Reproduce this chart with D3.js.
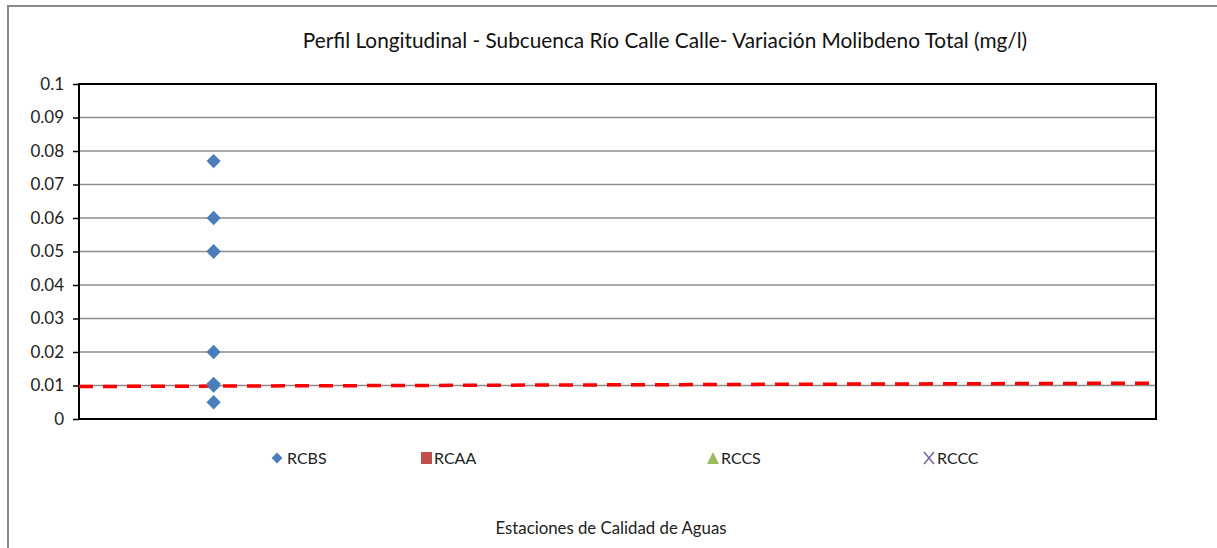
<!DOCTYPE html>
<html>
<head>
<meta charset="utf-8">
<script src="https://cdn.jsdelivr.net/npm/d3@7"></script>
<style>
  html, body { margin: 0; padding: 0; background: #fff; }
  svg { display: block; font-family: Lato, "Open Sans", sans-serif; }
</style>
</head>
<body>
<svg id="chart" width="1217" height="548"></svg>
<script>
// Sampling stations along the Calle Calle sub-basin
const stations = ["RCBS", "RCAA", "RCCS", "RCCC"];
// Total molybdenum measured at RCBS (mg/l)
const rcbsValues = [0.077, 0.06, 0.05, 0.05, 0.02, 0.0105, 0.01, 0.005];
// Reference limit line (mg/l), from left edge to right edge of the plot
const limitValues = [0.0097, 0.0107];
const yTicks = [0, 0.01, 0.02, 0.03, 0.04, 0.05, 0.06, 0.07, 0.08, 0.09, 0.1];

const svg = d3.select("#chart");
const W = 1217, H = 548;
const plot = { left: 79, top: 84, right: 1156, bottom: 419 };

// Outer chart frame
svg.append("path")
  .attr("d", `M8,${H + 5} V6 H${W + 5}`)
  .attr("fill", "none").attr("stroke", "#8a8a8a").attr("stroke-width", 2);

const x = d3.scaleBand().domain(stations).range([plot.left, plot.right]);
const y = d3.scaleLinear().domain([0, 0.1]).range([plot.bottom, plot.top]);

// Gridlines
svg.append("g").selectAll("line")
  .data(yTicks.filter(t => t > 0 && t < 0.1))
  .join("line")
  .attr("x1", plot.left).attr("x2", plot.right)
  .attr("y1", d => y(d)).attr("y2", d => y(d))
  .attr("stroke", "#8c8c8c").attr("stroke-width", 1.5);

// Plot frame
svg.append("rect")
  .attr("x", plot.left).attr("y", plot.top)
  .attr("width", plot.right - plot.left).attr("height", plot.bottom - plot.top)
  .attr("fill", "none").attr("stroke", "#000").attr("stroke-width", 2);

// Y axis
const yAxis = d3.axisLeft(y).tickValues(yTicks).tickSize(6).tickPadding(9)
  .tickFormat(d => d3.format("")(+d.toFixed(2)));
const gy = svg.append("g").attr("transform", `translate(${plot.left},0)`).call(yAxis);
gy.select(".domain").remove();
gy.selectAll(".tick line").attr("stroke", "#000").attr("stroke-width", 1.5);
gy.selectAll(".tick text").attr("font-size", 17).attr("fill", "#222")
  .attr("font-family", "Lato, sans-serif");

// Limit line (dashed red)
const xl = d3.scaleLinear().domain([0, limitValues.length - 1]).range([plot.left, plot.right]);
svg.append("path")
  .datum(limitValues)
  .attr("d", d3.line().x((d, i) => xl(i)).y(d => y(d)))
  .attr("fill", "none").attr("stroke", "#ff0000").attr("stroke-width", 3.5)
  .attr("stroke-dasharray", "14,10");

// RCBS points
const diamond = d3.symbol().type(d3.symbolDiamond2).size(130);
svg.append("g").selectAll("path")
  .data(rcbsValues)
  .join("path")
  .attr("d", diamond)
  .attr("transform", d => `translate(${x("RCBS") + x.bandwidth() / 2},${y(d)})`)
  .attr("fill", "#4a7ebb");

// Title
svg.append("text")
  .attr("x", 665).attr("y", 48).attr("text-anchor", "middle")
  .attr("font-size", 20.8).attr("fill", "#111")
  .text("Perfil Longitudinal - Subcuenca Río Calle Calle- Variación Molibdeno Total (mg/l)");

// Legend
const legendItems = [
  { name: "RCBS", x: 271, shape: "diamond", color: "#4a7ebb" },
  { name: "RCAA", x: 426, shape: "square", color: "#c0504d" },
  { name: "RCCS", x: 713, shape: "triangle", color: "#9bbb59" },
  { name: "RCCC", x: 929, shape: "cross", color: "#8064a2" }
];
const ly = 458;
const lg = svg.append("g");
legendItems.forEach(it => {
  if (it.shape === "diamond") {
    lg.append("path").attr("d", d3.symbol().type(d3.symbolDiamond2).size(75)())
      .attr("transform", `translate(${it.x + 6},${ly})`).attr("fill", it.color);
  } else if (it.shape === "square") {
    lg.append("rect").attr("x", it.x - 5).attr("y", ly - 6).attr("width", 11).attr("height", 12)
      .attr("fill", it.color);
  } else if (it.shape === "triangle") {
    lg.append("path").attr("d", `M${it.x - 6},${ly + 6} L${it.x},${ly - 6} L${it.x + 6},${ly + 6} Z`)
      .attr("fill", it.color);
  } else {
    lg.append("path").attr("d", `M${it.x - 5},${ly - 6} L${it.x + 5},${ly + 6} M${it.x + 5},${ly - 6} L${it.x - 5},${ly + 6}`)
      .attr("stroke", it.color).attr("stroke-width", 1.6);
  }
  lg.append("text").attr("x", it.x + (it.shape === "diamond" ? 16 : 8)).attr("y", ly + 6)
    .attr("font-size", 16).attr("fill", "#222").text(it.name);
});

// X axis title
svg.append("text")
  .attr("x", 611).attr("y", 534).attr("text-anchor", "middle")
  .attr("font-size", 16.8).attr("fill", "#222")
  .text("Estaciones de Calidad de Aguas");
</script>
</body>
</html>
